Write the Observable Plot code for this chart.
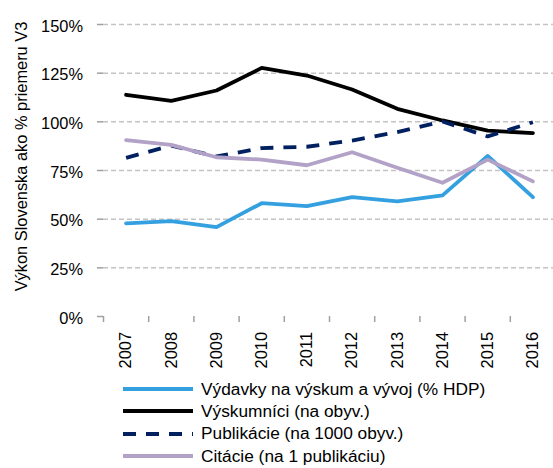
<!DOCTYPE html>
<html><head><meta charset="utf-8">
<script src="https://cdn.jsdelivr.net/npm/d3@7"></script>
<script src="https://cdn.jsdelivr.net/npm/@observablehq/plot@0.6"></script>
<style>
html,body{margin:0;padding:0;background:#fff;}
#wrap{position:relative;width:553px;height:468px;font-family:"Liberation Sans",Arial,sans-serif;}
#legend{position:absolute;left:123px;top:378px;}
.row{display:flex;align-items:center;height:22.3px;font-size:17.3px;color:#000;white-space:nowrap;}
.row svg{margin-right:8px;}
</style>
</head><body>
<div id="wrap"><div id="chart"></div><div id="legend"></div></div>
<script>
const years = [2007, 2008, 2009, 2010, 2011, 2012, 2013, 2014, 2015, 2016];
const seriesNames = [
  "Výdavky na výskum a vývoj (% HDP)",
  "Výskumníci (na obyv.)",
  "Publikácie (na 1000 obyv.)",
  "Citácie (na 1 publikáciu)"
];
const vydavky    = [47.8, 49.0, 45.9, 58.2, 56.7, 61.3, 59.1, 62.2, 82.5, 61.3];
const vyskumnici = [113.9, 110.8, 116.1, 127.7, 123.8, 116.6, 106.7, 100.7, 95.5, 94.2];
const publikacie = [81.5, 87.8, 82.2, 86.5, 87.2, 90.4, 94.7, 100.2, 92.5, 99.8];
const citacie    = [90.6, 88.2, 81.8, 80.6, 77.7, 84.4, 76.4, 68.7, 80.6, 69.4];
const yTicks = [0, 25, 50, 75, 100, 125, 150];
const colors = ["#34a0e0", "#000000", "#002060", "#b3a2c7"];
const dashes = [null, null, "13,10", null];

const allValues = [vydavky, vyskumnici, publikacie, citacie];
const table = allValues.map(vals => years.map((yr, i) => ({year: yr, value: vals[i]})));
const boundaries = years.map(y => y - 0.5);

const font = '"Liberation Sans", Arial, sans-serif';

const lineMarks = table.map((data, k) => Plot.line(data, {
  x: "year", y: "value",
  stroke: colors[k], strokeWidth: 3.8,
  strokeDasharray: dashes[k] ?? undefined,
  strokeLinejoin: "round", strokeLinecap: dashes[k] ? "butt" : "round"
}));

const chart = Plot.plot({
  width: 553, height: 370,
  marginLeft: 103, marginRight: -2, marginTop: 24, marginBottom: 54,
  style: {fontFamily: font, fontSize: "16.4px", color: "#000", background: "#fff"},
  x: {type: "linear", domain: [years[0] - 0.5, years[years.length - 1] + 0.5], axis: null},
  y: {domain: [0, 150], axis: null},
  marks: [
    Plot.gridY({ticks: yTicks.slice(1), stroke: "#c4c4c4", strokeOpacity: 1, strokeWidth: 1.5, strokeDasharray: "5,3"}),
    Plot.axisY({ticks: yTicks, tickFormat: () => "", tickSize: 6, stroke: "#a0a0a0", strokeWidth: 1.5, line: true, label: null}),
    Plot.axisY({ticks: yTicks, tickFormat: d => d + "%", tickSize: 0, tickPadding: 20.5, dy: 1.8, label: null, fontSize: 16.4}),
    Plot.axisX({ticks: boundaries, tickFormat: () => "", tickSize: 6, stroke: "#a0a0a0", strokeWidth: 1.5, line: true, label: null}),
    Plot.axisX({ticks: years, tickFormat: d => String(d), tickSize: 0, tickPadding: 15.5, tickRotate: -90, label: null, fontSize: 16.4}),
    ...lineMarks,
    Plot.text(["Výkon Slovenska ako % priemeru V3"], {frameAnchor: "left", textAnchor: "middle", rotate: -90, dx: -82, dy: -14, fontSize: 16.4, fill: "#000"})
  ]
});
document.getElementById("chart").appendChild(chart);

const legend = document.getElementById("legend");
seriesNames.forEach((name, k) => {
  const row = document.createElement("div");
  row.className = "row";
  const dash = dashes[k] ? `stroke-dasharray="13,10"` : "";
  row.innerHTML = `<svg width="70" height="8"><line x1="0" y1="4" x2="70" y2="4" stroke="${colors[k]}" stroke-width="4" ${dash}/></svg><span>${name}</span>`;
  legend.appendChild(row);
});
</script>
</body></html>
